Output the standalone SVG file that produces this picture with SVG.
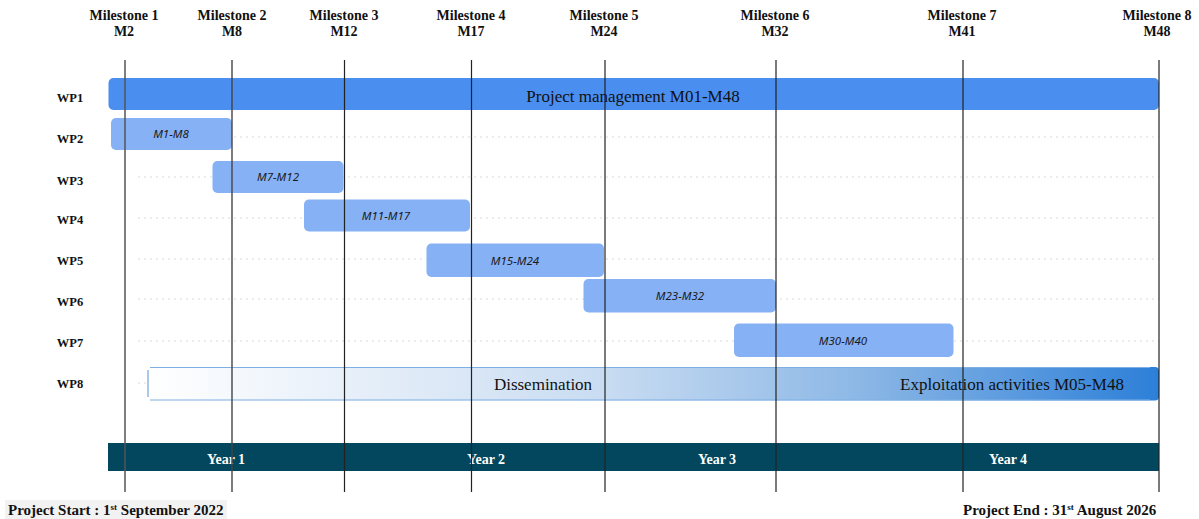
<svg xmlns="http://www.w3.org/2000/svg" width="1199" height="519" viewBox="0 0 1199 519">
<style>
.ms{font-family:"Liberation Serif",serif;font-weight:bold;font-size:14px;fill:#111;text-anchor:middle}
.wp{font-family:"Liberation Serif",serif;font-weight:bold;font-size:12.5px;fill:#111;text-anchor:middle}
.bar{fill:#86b1f5}
.bl{font-family:"Noto Sans","DejaVu Sans",sans-serif;font-style:italic;font-size:11.5px;fill:#1a1a1a;text-anchor:middle}
.big{font-family:"Liberation Serif",serif;font-size:17px;fill:#111;text-anchor:middle}
.yr{font-family:"Liberation Serif",serif;font-weight:bold;font-size:14px;fill:#fff;text-anchor:middle}
.grid{stroke:#d9d9d9;stroke-width:1;stroke-dasharray:2,4}
.vl{stroke:#222;stroke-width:1.2}
.foot{font-family:"Liberation Serif",serif;font-weight:bold;font-size:15px;fill:#111}
</style>
<defs>
<linearGradient id="g8" x1="0" y1="0" x2="1" y2="0">
<stop offset="0" stop-color="#ffffff"/>
<stop offset="0.45" stop-color="#c9dcf2"/>
<stop offset="0.7" stop-color="#8db8e6"/>
<stop offset="1" stop-color="#2c7fd8"/>
</linearGradient>
</defs>
<rect width="1199" height="519" fill="#fff"/>
<g id="gridlines">
<line class="grid" x1="138" y1="137" x2="1159" y2="137"/>
<line class="grid" x1="138" y1="177" x2="1159" y2="177"/>
<line class="grid" x1="138" y1="218" x2="1159" y2="218"/>
<line class="grid" x1="138" y1="259" x2="1159" y2="259"/>
<line class="grid" x1="138" y1="299" x2="1159" y2="299"/>
<line class="grid" x1="138" y1="341" x2="1159" y2="341"/>
<line class="grid" x1="138" y1="383" x2="146" y2="383"/>
</g>
<g id="milestones">
<text class="ms" x="124" y="20">Milestone 1</text><text class="ms" x="124" y="36">M2</text>
<text class="ms" x="232" y="20">Milestone 2</text><text class="ms" x="232" y="36">M8</text>
<text class="ms" x="344" y="20">Milestone 3</text><text class="ms" x="344" y="36">M12</text>
<text class="ms" x="471" y="20">Milestone 4</text><text class="ms" x="471" y="36">M17</text>
<text class="ms" x="604" y="20">Milestone 5</text><text class="ms" x="604" y="36">M24</text>
<text class="ms" x="775" y="20">Milestone 6</text><text class="ms" x="775" y="36">M32</text>
<text class="ms" x="962" y="20">Milestone 7</text><text class="ms" x="962" y="36">M41</text>
<text class="ms" x="1157" y="20">Milestone 8</text><text class="ms" x="1157" y="36">M48</text>
</g>
<g id="wp-labels">
<text class="wp" x="70" y="102">WP1</text>
<text class="wp" x="70" y="143">WP2</text>
<text class="wp" x="70" y="185">WP3</text>
<text class="wp" x="70" y="224">WP4</text>
<text class="wp" x="70" y="265">WP5</text>
<text class="wp" x="70" y="306">WP6</text>
<text class="wp" x="70" y="347">WP7</text>
<text class="wp" x="70" y="388">WP8</text>
</g>
<g id="wp1"><rect x="108.5" y="78" width="1050.5" height="32" rx="5" fill="#4a8ef0"/><text class="big" x="633" y="102">Project management M01-M48</text></g>
<g id="wp2"><rect class="bar" x="111" y="118" width="121" height="32" rx="5"/><text class="bl" x="171" y="138">M1-M8</text></g>
<g id="wp3"><rect class="bar" x="212.5" y="161" width="131" height="32" rx="5"/><text class="bl" x="278" y="181">M7-M12</text></g>
<g id="wp4"><rect class="bar" x="304" y="199.5" width="166" height="32" rx="5"/><text class="bl" x="386" y="220">M11-M17</text></g>
<g id="wp5"><rect class="bar" x="426.5" y="243.5" width="177.5" height="33.5" rx="5"/><text class="bl" x="515" y="265">M15-M24</text></g>
<g id="wp6"><rect class="bar" x="583.5" y="279" width="192.5" height="33.5" rx="5"/><text class="bl" x="680" y="300">M23-M32</text></g>
<g id="wp7"><rect class="bar" x="734" y="323.5" width="219.5" height="33.5" rx="5"/><text class="bl" x="843" y="345">M30-M40</text></g>
<g id="wp8">
<rect x="147.5" y="367" width="1011.5" height="33.5" rx="4" fill="url(#g8)"/>
<line x1="150" y1="367.5" x2="1150" y2="367.5" stroke="#7fb0e3" stroke-width="1"/>
<line x1="150" y1="400" x2="1150" y2="400" stroke="#7fb0e3" stroke-width="1.2"/>
<line x1="148" y1="370" x2="148" y2="397" stroke="#6fa3dc" stroke-width="1.2"/>
<text class="big" x="543" y="390">Dissemination</text>
<text class="big" x="1012" y="390">Exploitation activities M05-M48</text>
</g>
<g id="years">
<rect x="108" y="443" width="1051" height="28" fill="#02475e"/>
<text class="yr" x="226" y="464">Year 1</text>
<text class="yr" x="486" y="464">Year 2</text>
<text class="yr" x="717" y="464">Year 3</text>
<text class="yr" x="1008" y="464">Year 4</text>
</g>
<g id="connectors">
<line class="vl" x1="125" y1="60" x2="125" y2="492" style="stroke:#555;stroke-width:1.5"/>
<line class="vl" x1="232" y1="60" x2="232" y2="492" style="stroke:#444;stroke-width:1.4"/>
<line class="vl" x1="344.5" y1="60" x2="344.5" y2="492"/>
<line class="vl" x1="471.5" y1="60" x2="471.5" y2="492"/>
<line class="vl" x1="605" y1="60" x2="605" y2="492"/>
<line class="vl" x1="776" y1="60" x2="776" y2="492"/>
<line class="vl" x1="963" y1="60" x2="963" y2="492"/>
<line class="vl" x1="1159" y1="60" x2="1159" y2="492"/>
</g>
<g id="footer">
<rect x="5" y="500" width="222" height="19" fill="#f2f2f2"/>
<text class="foot" x="8" y="515">Project Start : 1<tspan font-size="9" dy="-5">st</tspan><tspan dy="5"> September 2022</tspan></text>
<text class="foot" x="963" y="515">Project End : 31<tspan font-size="9" dy="-5">st</tspan><tspan dy="5"> August 2026</tspan></text>
</g>
</svg>
